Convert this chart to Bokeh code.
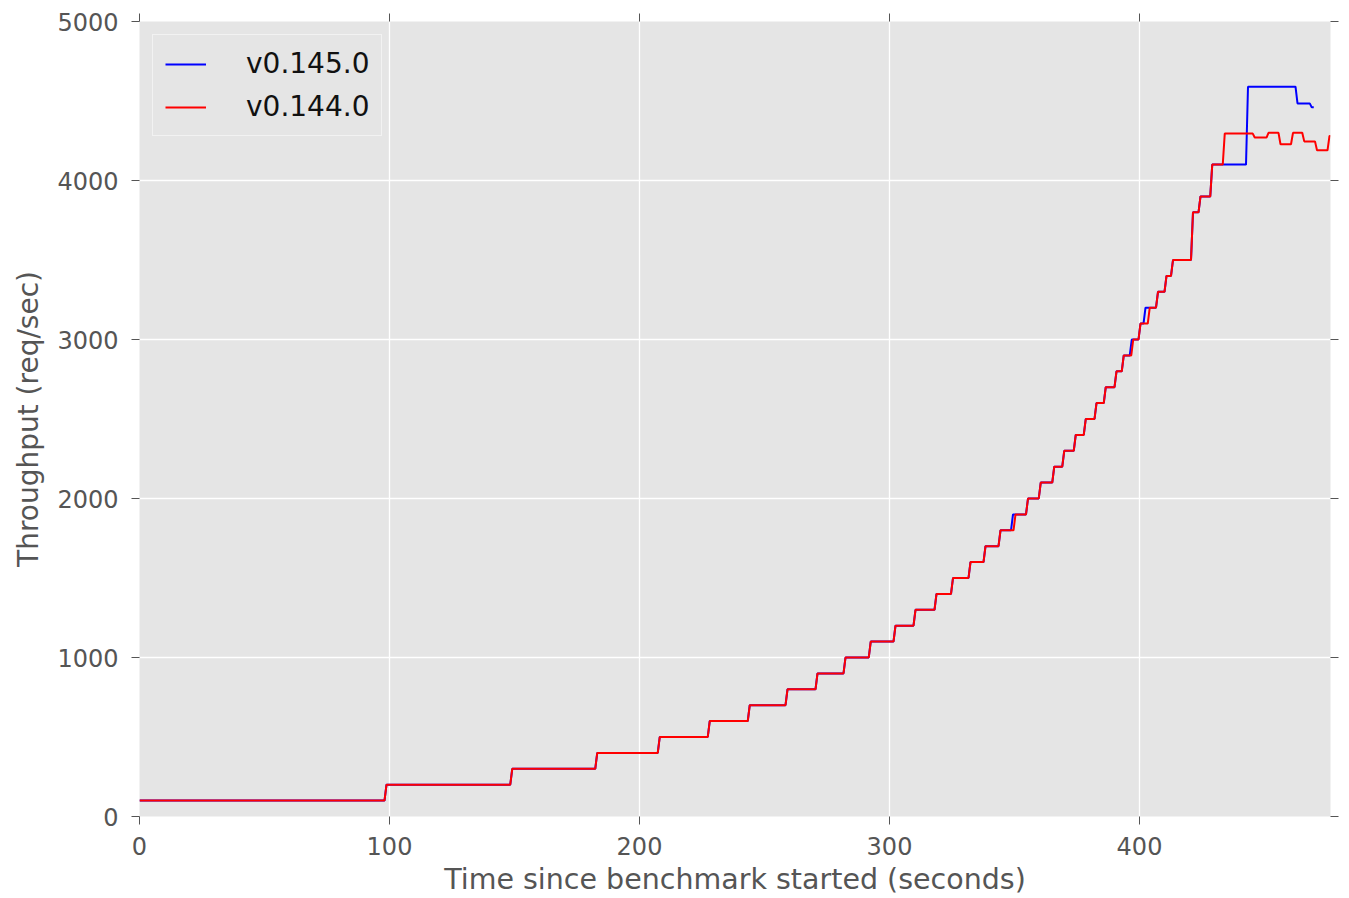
from bokeh.plotting import figure
from bokeh.models import LinearAxis, FixedTicker, Range1d
from bokeh.embed import file_html
from bokeh.resources import INLINE

# ---- data ----
# shared staircase: throughput levels (req/sec) and the time (s) each level starts
step_levels = [100, 200, 300, 400, 500, 600, 700, 800, 900, 1000,
               1100, 1200, 1300, 1400, 1500, 1600, 1700, 1800, 1900, 2000,
               2100, 2200, 2300, 2400, 2500, 2600, 2700, 2800, 2900, 3000,
               3100, 3200, 3300, 3400, 3500, 3800, 3900, 4100]
red_step_times = [0, 98.4, 148.7, 182.7, 207.7, 227.7, 243.7, 258.8, 270.8, 282.0,
                  292.1, 302.0, 310.0, 318.4, 325.0, 332.0, 338.0, 344.0, 350.0, 355.0,
                  360.1, 365.5, 369.5, 374.1, 378.1, 382.4, 386.1, 390.4, 393.3, 397.1,
                  400.0, 403.7, 407.0, 410.4, 413.0, 421.0, 424.0, 428.7]
blue_step_times = [0, 98.4, 148.7, 182.7, 207.7, 227.7, 243.7, 258.8, 270.8, 282.0,
                   292.1, 302.0, 310.0, 318.4, 325.0, 332.0, 338.0, 344.0, 349.0, 355.0,
                   360.1, 365.5, 369.5, 374.1, 378.1, 382.4, 386.1, 390.4, 393.3, 396.5,
                   400.0, 402.0, 407.0, 410.4, 413.0, 421.0, 424.0, 428.7]

# saturated tails
blue_tail_levels = [4590, 4485, 4460]
blue_tail_times = [443.0, 462.8, 468.5]
blue_end_time = 469.7

red_tail_levels = [4295, 4270, 4300, 4228, 4300, 4246, 4190, 4280]
red_tail_times = [433.7, 445.7, 451.2, 456.0, 461.0, 465.5, 470.6, 475.6]
red_end_time = 476.4

x_ticks = [0, 100, 200, 300, 400]
y_ticks = [0, 1000, 2000, 3000, 4000, 5000]

label_blue = "v0.145.0"
label_red = "v0.144.0"
x_title = "Time since benchmark started (seconds)"
y_title = "Throughput (req/sec)"


def build(levels, times, end, ramp=0.8):
    xs = [times[0]]
    ys = [levels[0]]
    for i in range(1, len(levels)):
        xs += [times[i] - ramp / 2, times[i] + ramp / 2]
        ys += [levels[i - 1], levels[i]]
    xs.append(end)
    ys.append(levels[-1])
    return xs, ys


bx, by = build(step_levels + blue_tail_levels, blue_step_times + blue_tail_times, blue_end_time)
rx, ry = build(step_levels + red_tail_levels, red_step_times + red_tail_times, red_end_time)

FONT = "DejaVu Sans"
GRAY = "#555555"

p = figure(width=1345, height=898,
           x_range=Range1d(0, red_end_time), y_range=Range1d(0, 5000),
           output_backend="svg", toolbar_location=None,
           min_border_left=139, min_border_right=15, min_border_top=21, min_border_bottom=81,
           background_fill_color="#E5E5E5", border_fill_color="white",
           outline_line_color=None)

p.line(bx, by, line_color="#0000FF", line_width=2, legend_label=label_blue)
p.line(rx, ry, line_color="#FF0000", line_width=2, legend_label=label_red)

for ax in (p.xaxis[0], p.yaxis[0]):
    ax.axis_line_color = None
    ax.minor_tick_line_color = None
    ax.major_tick_in = 0
    ax.major_tick_out = 8
    ax.major_tick_line_color = GRAY
    ax.major_tick_line_width = 1
    ax.major_label_text_font = FONT
    ax.major_label_text_font_size = "24px"
    ax.major_label_text_color = GRAY
    ax.axis_label_text_font = FONT
    ax.axis_label_text_font_size = "28px"
    ax.axis_label_text_font_style = "normal"
    ax.axis_label_text_color = GRAY

p.xaxis.ticker = FixedTicker(ticks=x_ticks)
p.yaxis.ticker = FixedTicker(ticks=y_ticks)
p.xaxis.axis_label = x_title
p.yaxis.axis_label = y_title
p.xaxis.axis_label_text_font_size = "28.5px"
p.xaxis.major_label_standoff = 12
p.xaxis.axis_label_standoff = 5
p.yaxis.major_label_standoff = 13
p.yaxis.axis_label_standoff = 9

top = LinearAxis(ticker=FixedTicker(ticks=x_ticks), axis_line_color=None,
                 minor_tick_line_color=None, major_tick_in=0, major_tick_out=8,
                 major_tick_line_color=GRAY, major_label_standoff=0,
                 major_label_overrides={t: "" for t in x_ticks})
right = LinearAxis(ticker=FixedTicker(ticks=y_ticks), axis_line_color=None,
                   minor_tick_line_color=None, major_tick_in=0, major_tick_out=8,
                   major_tick_line_color=GRAY, major_label_standoff=0,
                   major_label_overrides={t: "" for t in y_ticks})
p.add_layout(top, "above")
p.add_layout(right, "right")

p.xgrid.grid_line_color = "white"
p.ygrid.grid_line_color = "white"
p.xgrid.grid_line_width = 1.3
p.ygrid.grid_line_width = 1.3

lg = p.legend[0]
lg.location = "top_left"
lg.margin = 13
lg.padding = 12
lg.spacing = 10
lg.glyph_width = 41
lg.glyph_height = 32
lg.label_height = 32
lg.label_standoff = 40
lg.label_text_font = FONT
lg.label_text_font_size = "28px"
lg.label_text_color = "#111111"
lg.background_fill_color = "#E5E5E5"
lg.background_fill_alpha = 1
lg.border_line_color = "white"
lg.border_line_width = 1

open("out.html", "w").write(file_html(p, INLINE))
